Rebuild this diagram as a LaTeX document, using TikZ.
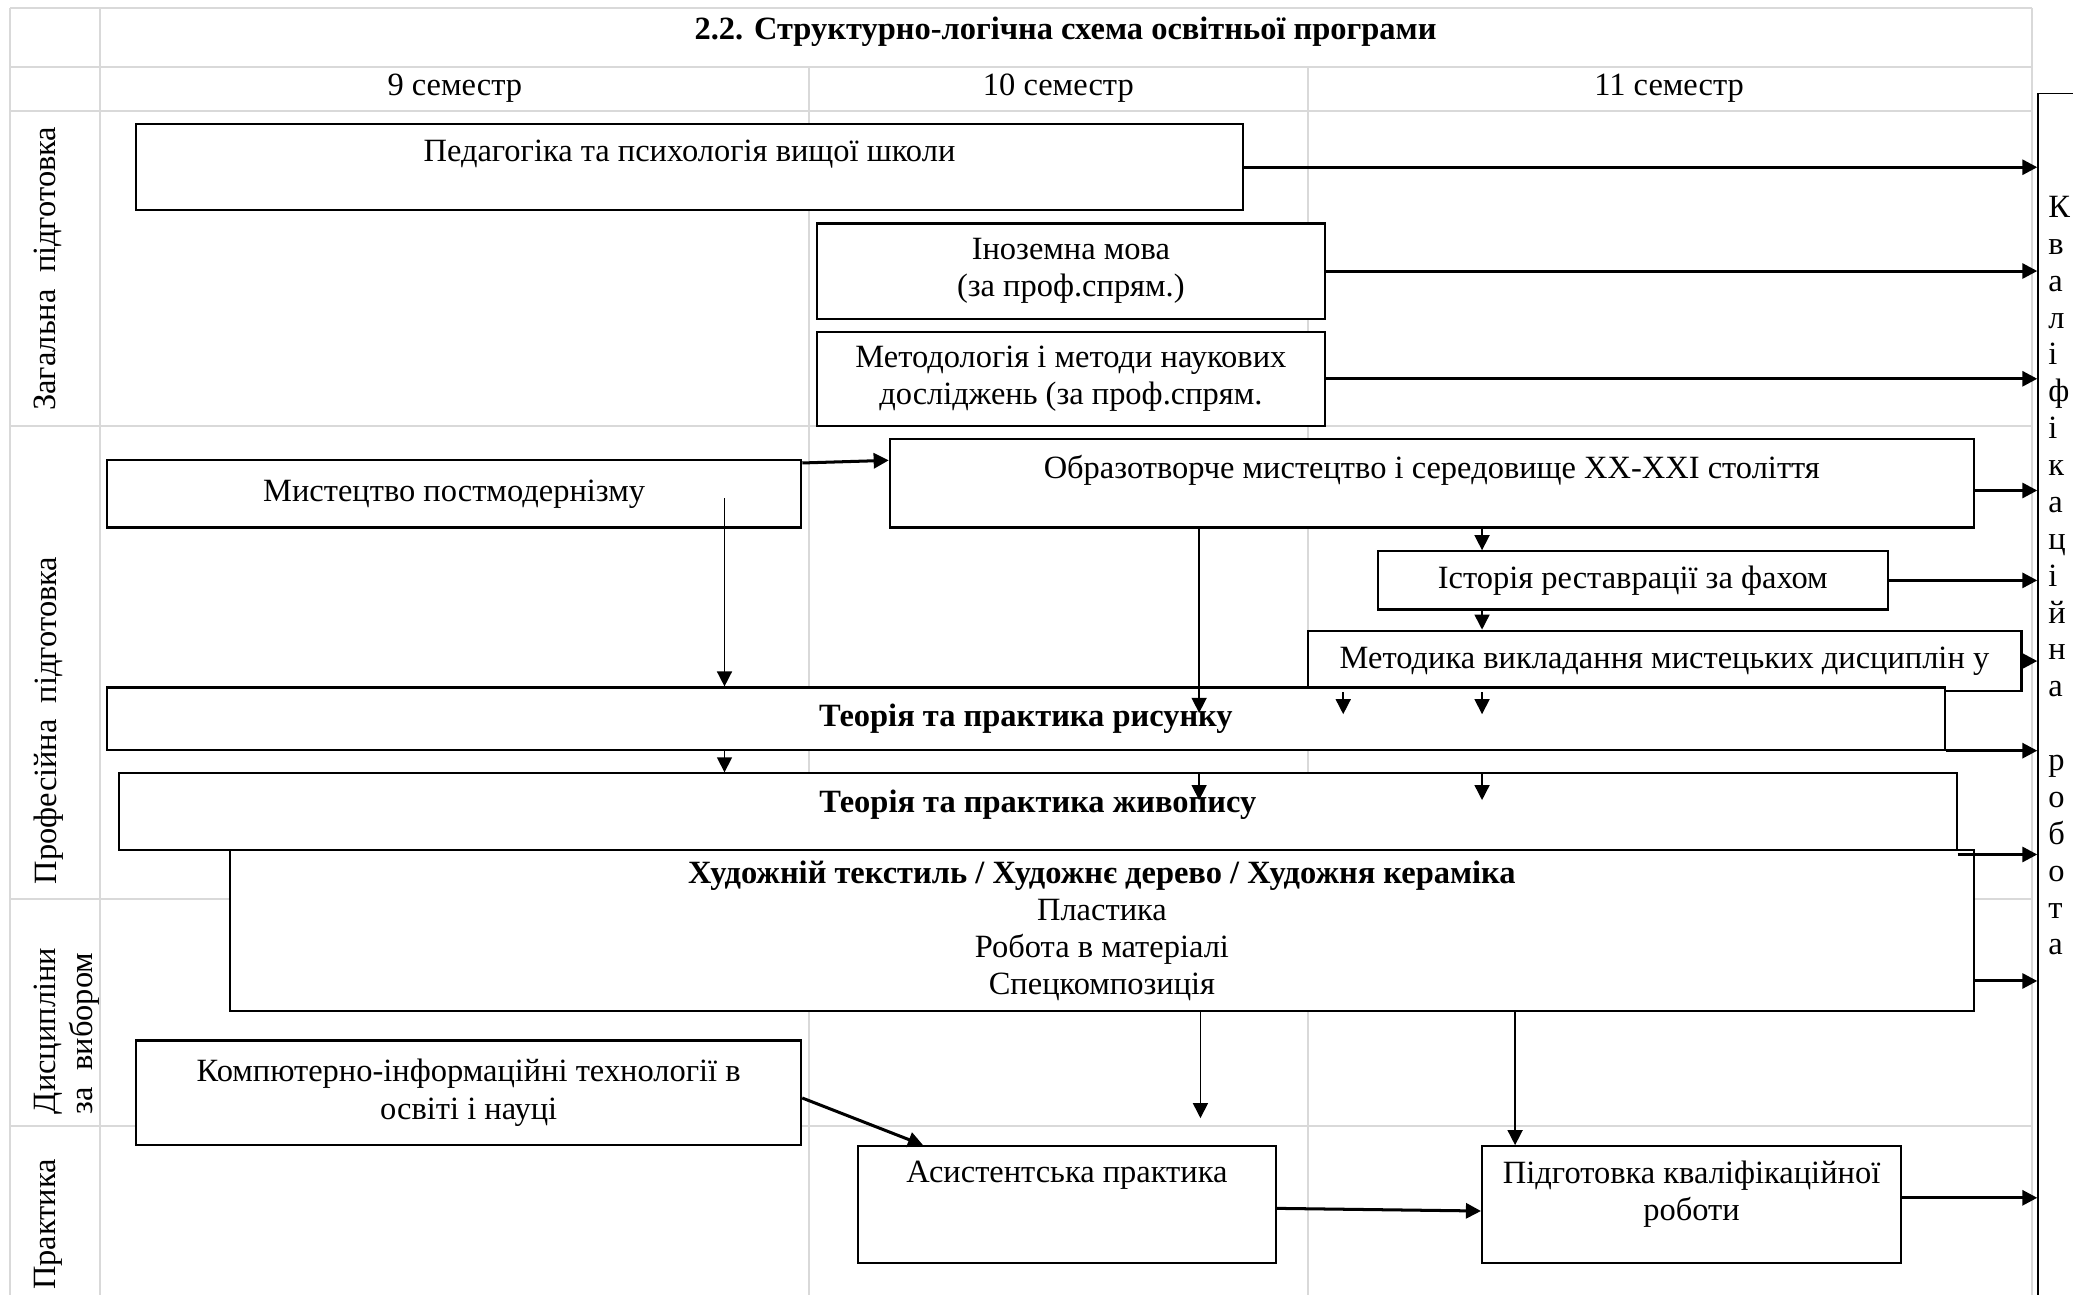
\documentclass[tikz,border=0pt]{standalone}
\usepackage{fontspec}
\setmainfont{Liberation Serif}
\usetikzlibrary{arrows.meta}
\usetikzlibrary{calc}
\definecolor{gridgray}{RGB}{217,217,217}
\tikzset{
	gridstyle/.style={draw=gridgray,line width=0.85pt},
	boxstyle/.style={rectangle,draw=black,fill=white,line width=0.9pt,align=center,inner sep=2pt,font=\fontsize{14}{16}\selectfont},
	arrowstyle/.style={-{Triangle[length=6.5pt,width=6.5pt]},line width=1.3pt},
	thinstyle/.style={-{Triangle[length=6.5pt,width=6.5pt]},line width=0.65pt},
	labelstyle/.style={rotate=90,anchor=west,inner sep=0pt,align=left,font=\fontsize{14}{16}\selectfont},
	headstyle/.style={inner sep=0pt,font=\fontsize{14}{16}\selectfont}
}

\begin{document}
\begin{tikzpicture}[x=0.57pt,y=-0.57pt]
	\useasboundingbox (0,0) rectangle (1568,979);
	\clip (0,0) rectangle (1568,979);
	% table grid
	\draw[gridstyle] (7.6,6.3)--(1537,6.3);
	\draw[gridstyle] (7.6,50.4)--(1537,50.4);
	\draw[gridstyle] (7.6,84)--(1537,84);
	\draw[gridstyle] (7.6,322)--(1537,322);
	\draw[gridstyle] (7.6,680)--(1537,680);
	\draw[gridstyle] (7.6,852)--(1537,852);
	\draw[gridstyle] (7.6,6.3)--(7.6,990);
	\draw[gridstyle] (76,6.3)--(76,990);
	\draw[gridstyle] (612,50.4)--(612,990);
	\draw[gridstyle] (989,50.4)--(989,990);
	\draw[gridstyle] (1537,6.3)--(1537,990);
	% headings
	\node[headstyle,font=\fontsize{14}{16}\selectfont\bfseries] (title) at (806,24) {2.2. Структурно-логічна схема освітньої програми};
	\node[headstyle] (sem9) at (344,67) {9 семестр};
	\node[headstyle] (sem10) at (800.5,67) {10 семестр};
	\node[headstyle] (sem11) at (1262.5,67) {11 семестр};
	\node[labelstyle] (row1) at (36.5,311) {Загальна\ \ підготовка};
	\node[labelstyle] (row2) at (36.5,669) {Професійна\ \ підготовка};
	\node[labelstyle] (row3) at (50.5,843) {Дисципліни\\за\ \ вибором};
	\node[labelstyle] (row4) at (36.5,976) {Практика};
	% courses
	\node[boxstyle,minimum width=477.1pt,minimum height=37.05pt,text depth=14pt] (ped) at (521.5,126.5) {Педагогіка та психологія вищої школи};
	\node[boxstyle,minimum width=218.9pt,minimum height=41pt] (inoz) at (810,205) {Іноземна мова\\(за проф.спрям.)};
	\node[boxstyle,minimum width=218.9pt,minimum height=40.5pt] (metod) at (810,286.5) {Методологія і методи наукових\\досліджень (за проф.спрям.};
	\node[boxstyle,minimum width=299.3pt,minimum height=29.1pt] (postmod) at (343.5,373.5) {Мистецтво постмодернізму};
	\node[boxstyle,minimum width=467.4pt,minimum height=38.2pt,text depth=14pt] (obraz) at (1083,365.5) {Образотворче мистецтво і середовище XX-XXI століття};
	\node[boxstyle,minimum width=220pt,minimum height=25.1pt] (istor) at (1235,439) {Історія реставрації за фахом};
	\node[boxstyle,minimum width=307.8pt,minimum height=26.2pt] (metodyka) at (1259,500) {Методика викладання мистецьких дисциплін у};
	\node[boxstyle,minimum width=792.3pt,minimum height=26.8pt,font=\fontsize{14}{16}\selectfont\bfseries] (rysunok) at (776,543.5) {Теорія та практика рисунку};
	\node[boxstyle,minimum width=792.3pt,minimum height=33.1pt,text depth=9.5pt,font=\fontsize{14}{16}\selectfont\bfseries] (zhyvopys) at (785,614) {Теорія та практика живопису};
	\node[boxstyle,minimum width=751.8pt,minimum height=69.5pt] (khud) at (833.5,704) {\textbf{Художній текстиль / Художнє дерево / Художня кераміка}\\Пластика\\Робота в матеріалі\\Спецкомпозиція};
	\node[boxstyle,minimum width=286.7pt,minimum height=45pt] (komp) at (354.5,826.5) {Компютерно-інформаційні технології в\\освіті і науці};
	\node[boxstyle,minimum width=180.1pt,minimum height=50.2pt,text depth=28pt] (asyst) at (807,911) {Асистентська практика};
	\node[boxstyle,minimum width=180.7pt,minimum height=50.2pt,text depth=12pt] (pidg) at (1279.5,911) {Підготовка кваліфікаційної\\роботи};
	\node[boxstyle,anchor=north west,line width=0.75pt,minimum width=40pt,minimum height=540pt] (kval) at (1541,70) {};
	\node[anchor=north west,inner sep=0pt,align=left,font=\fontsize{14}{15.9}\selectfont] (kvaltext) at (1549,148) {К\\в\\а\\л\\і\\ф\\і\\к\\а\\ц\\і\\й\\н\\а\\\mbox{}\\р\\о\\б\\о\\т\\а};
	% points for the connectors
	\coordinate (pm) at (548,377);
	\coordinate (ob) at (907,0);
	\coordinate (mid) at (1121,0);
	\coordinate (mk) at (1016,0);
	\coordinate (kh) at (908,0);
	\coordinate (kp) at (1146,0);
	\coordinate (obe) at ($(obraz.east)+(0,5.5)$);
	\coordinate (zse) at ($(zhyvopys.south east)+(0,2.5)$);
	\coordinate (khe) at ($(khud.east)+(0,38)$);
	\coordinate (pge) at ($(pidg.east)+(0,-5)$);
	% to the final work
	\draw[arrowstyle] (ped.east)--(ped.east -| kval.west);
	\draw[arrowstyle] (inoz.east)--(inoz.east -| kval.west);
	\draw[arrowstyle] (metod.east)--(metod.east -| kval.west);
	\draw[arrowstyle] (obe)--(obe -| kval.west);
	\draw[arrowstyle] (istor.east)--(istor.east -| kval.west);
	\draw[arrowstyle] (metodyka.east)--(metodyka.east -| kval.west);
	\draw[arrowstyle] (rysunok.south east)--(rysunok.south east -| kval.west);
	\draw[arrowstyle] (zse)--(zse -| kval.west);
	\draw[arrowstyle] (khe)--(khe -| kval.west);
	\draw[arrowstyle] (pge)--(pge -| kval.west);
	% between courses
	\draw[arrowstyle] ($(postmod.north east)+(0,3)$)--($(obraz.north west)+(0,17)$);
	\draw[arrowstyle] ($(asyst.east)+(0,3)$)--($(pidg.west)+(0,5)$);
	\draw[arrowstyle] ($(komp.east)+(0,4)$)--($(asyst.north west)+(50,0)$);
	\draw[thinstyle] (pm)--(pm |- rysunok.north);
	\draw[thinstyle] (pm |- rysunok.south)--(pm |- zhyvopys.north);
	\draw[thinstyle] (ob |- obraz.south)--($(ob |- rysunok.north)+(0,20)$);
	\draw[thinstyle] (mid |- obraz.south)--(mid |- istor.north);
	\draw[thinstyle] (mid |- istor.south)--(mid |- metodyka.north);
	\draw[thinstyle] (mk |- metodyka.south)--($(mk |- rysunok.north)+(0,21)$);
	\draw[thinstyle] (mid |- metodyka.south)--($(mid |- rysunok.north)+(0,21)$);
	\draw[thinstyle] (ob |- zhyvopys.north)--($(ob |- zhyvopys.north)+(0,21)$);
	\draw[thinstyle] (mid |- zhyvopys.north)--($(mid |- zhyvopys.north)+(0,21)$);
	\draw[thinstyle] (kh |- khud.south)--($(kh |- khud.south)+(0,80)$);
	\draw[thinstyle] (kp |- khud.south)--(kp |- pidg.north);
\end{tikzpicture}
\end{document}
